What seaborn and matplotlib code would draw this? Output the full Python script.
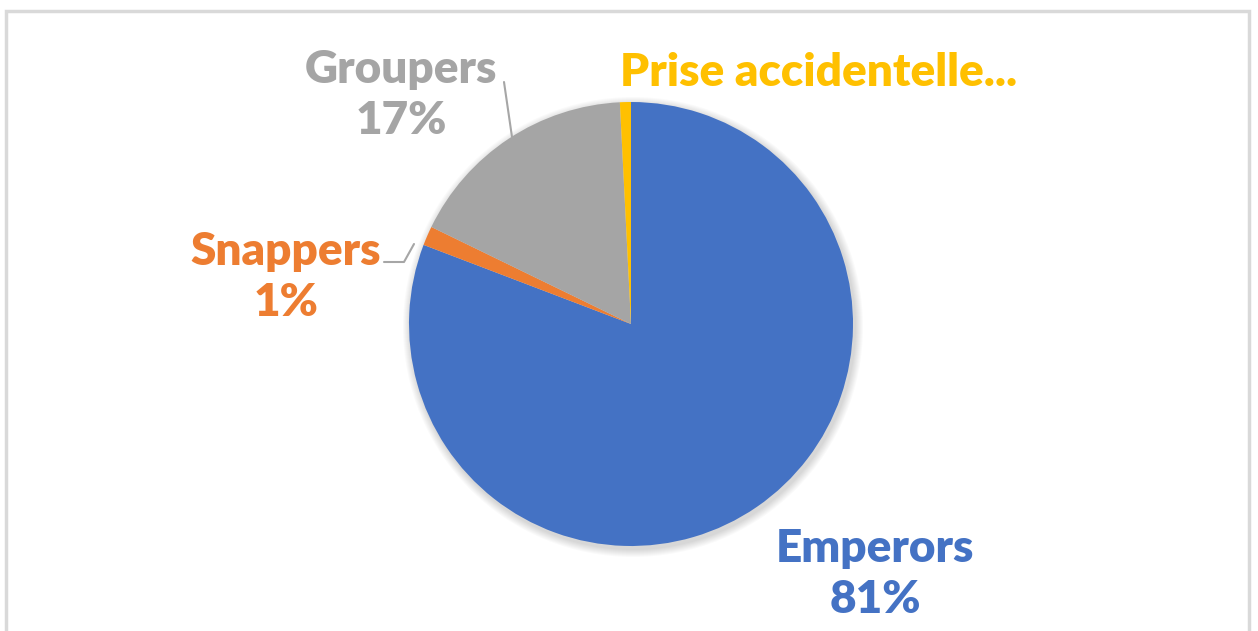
import matplotlib
matplotlib.use("Agg")
import matplotlib.pyplot as plt
import seaborn as sns
from matplotlib.patches import Circle, Rectangle

categories = ["Emperors", "Snappers", "Groupers", "Prise accidentelle"]
shares = [80.8, 1.4, 17.0, 0.8]
shown_names = ["Emperors", "Snappers", "Groupers", "Prise accidentelle..."]
show_pct = [True, True, True, False]

sns.set_theme(style="white")
plt.rcParams['font.family'] = ['Lato', 'DejaVu Sans']
colors = sns.color_palette(["#4472C4", "#ED7D31", "#A5A5A5", "#FFC000"])

W, H = 1258, 631
fig = plt.figure(figsize=(W / 100, H / 100), dpi=100)
ax = fig.add_axes([0, 0, 1, 1])

def py(y):
    # convert a top-down pixel row to axis units
    return H - y

cx, cy, r = 631, py(324), 222

# chart frame
ax.add_patch(Rectangle((6, -10), 1243, py(11) + 10, fill=False,
                       edgecolor="#d9d9d9", linewidth=2.5, zorder=0))

# soft shadow behind the pie
for k in range(1, 9):
    ax.add_patch(Circle((cx + 2, cy - 3), r + k, color="black",
                        alpha=0.02, linewidth=0, zorder=1))

ax.pie(shares, colors=colors, startangle=90, counterclock=False,
       center=(cx, cy), radius=r, frame=True,
       wedgeprops=dict(linewidth=0, zorder=2))
ax.set_xlim(0, W)
ax.set_ylim(0, H)
ax.set_aspect("auto")
ax.axis("off")

total = sum(shares)
label_pos = {
    "Emperors": (875, 574, "center"),
    "Snappers": (286, 277, "center"),
    "Groupers": (401, 95, "center"),
    "Prise accidentelle": (620, 73, "left"),
}
for name, shown, val, col, pct in zip(categories, shown_names, shares, colors, show_pct):
    x, y, ha = label_pos[name]
    txt = f"{shown}\n{val / total * 100:.0f}%" if pct else shown
    ax.text(x, py(y), txt, ha=ha, va="center", color=col, fontsize=33,
            fontweight="heavy", linespacing=1.3, zorder=5)

# leader lines
lc = "#a6a6a6"
ax.plot([504, 512], [py(82), py(137)], color=lc, lw=1.5, zorder=3)
ax.plot([384, 404, 414], [py(262), py(262), py(244)], color=lc, lw=1.5, zorder=3)

fig.savefig("out.png", dpi=100, facecolor="white")
